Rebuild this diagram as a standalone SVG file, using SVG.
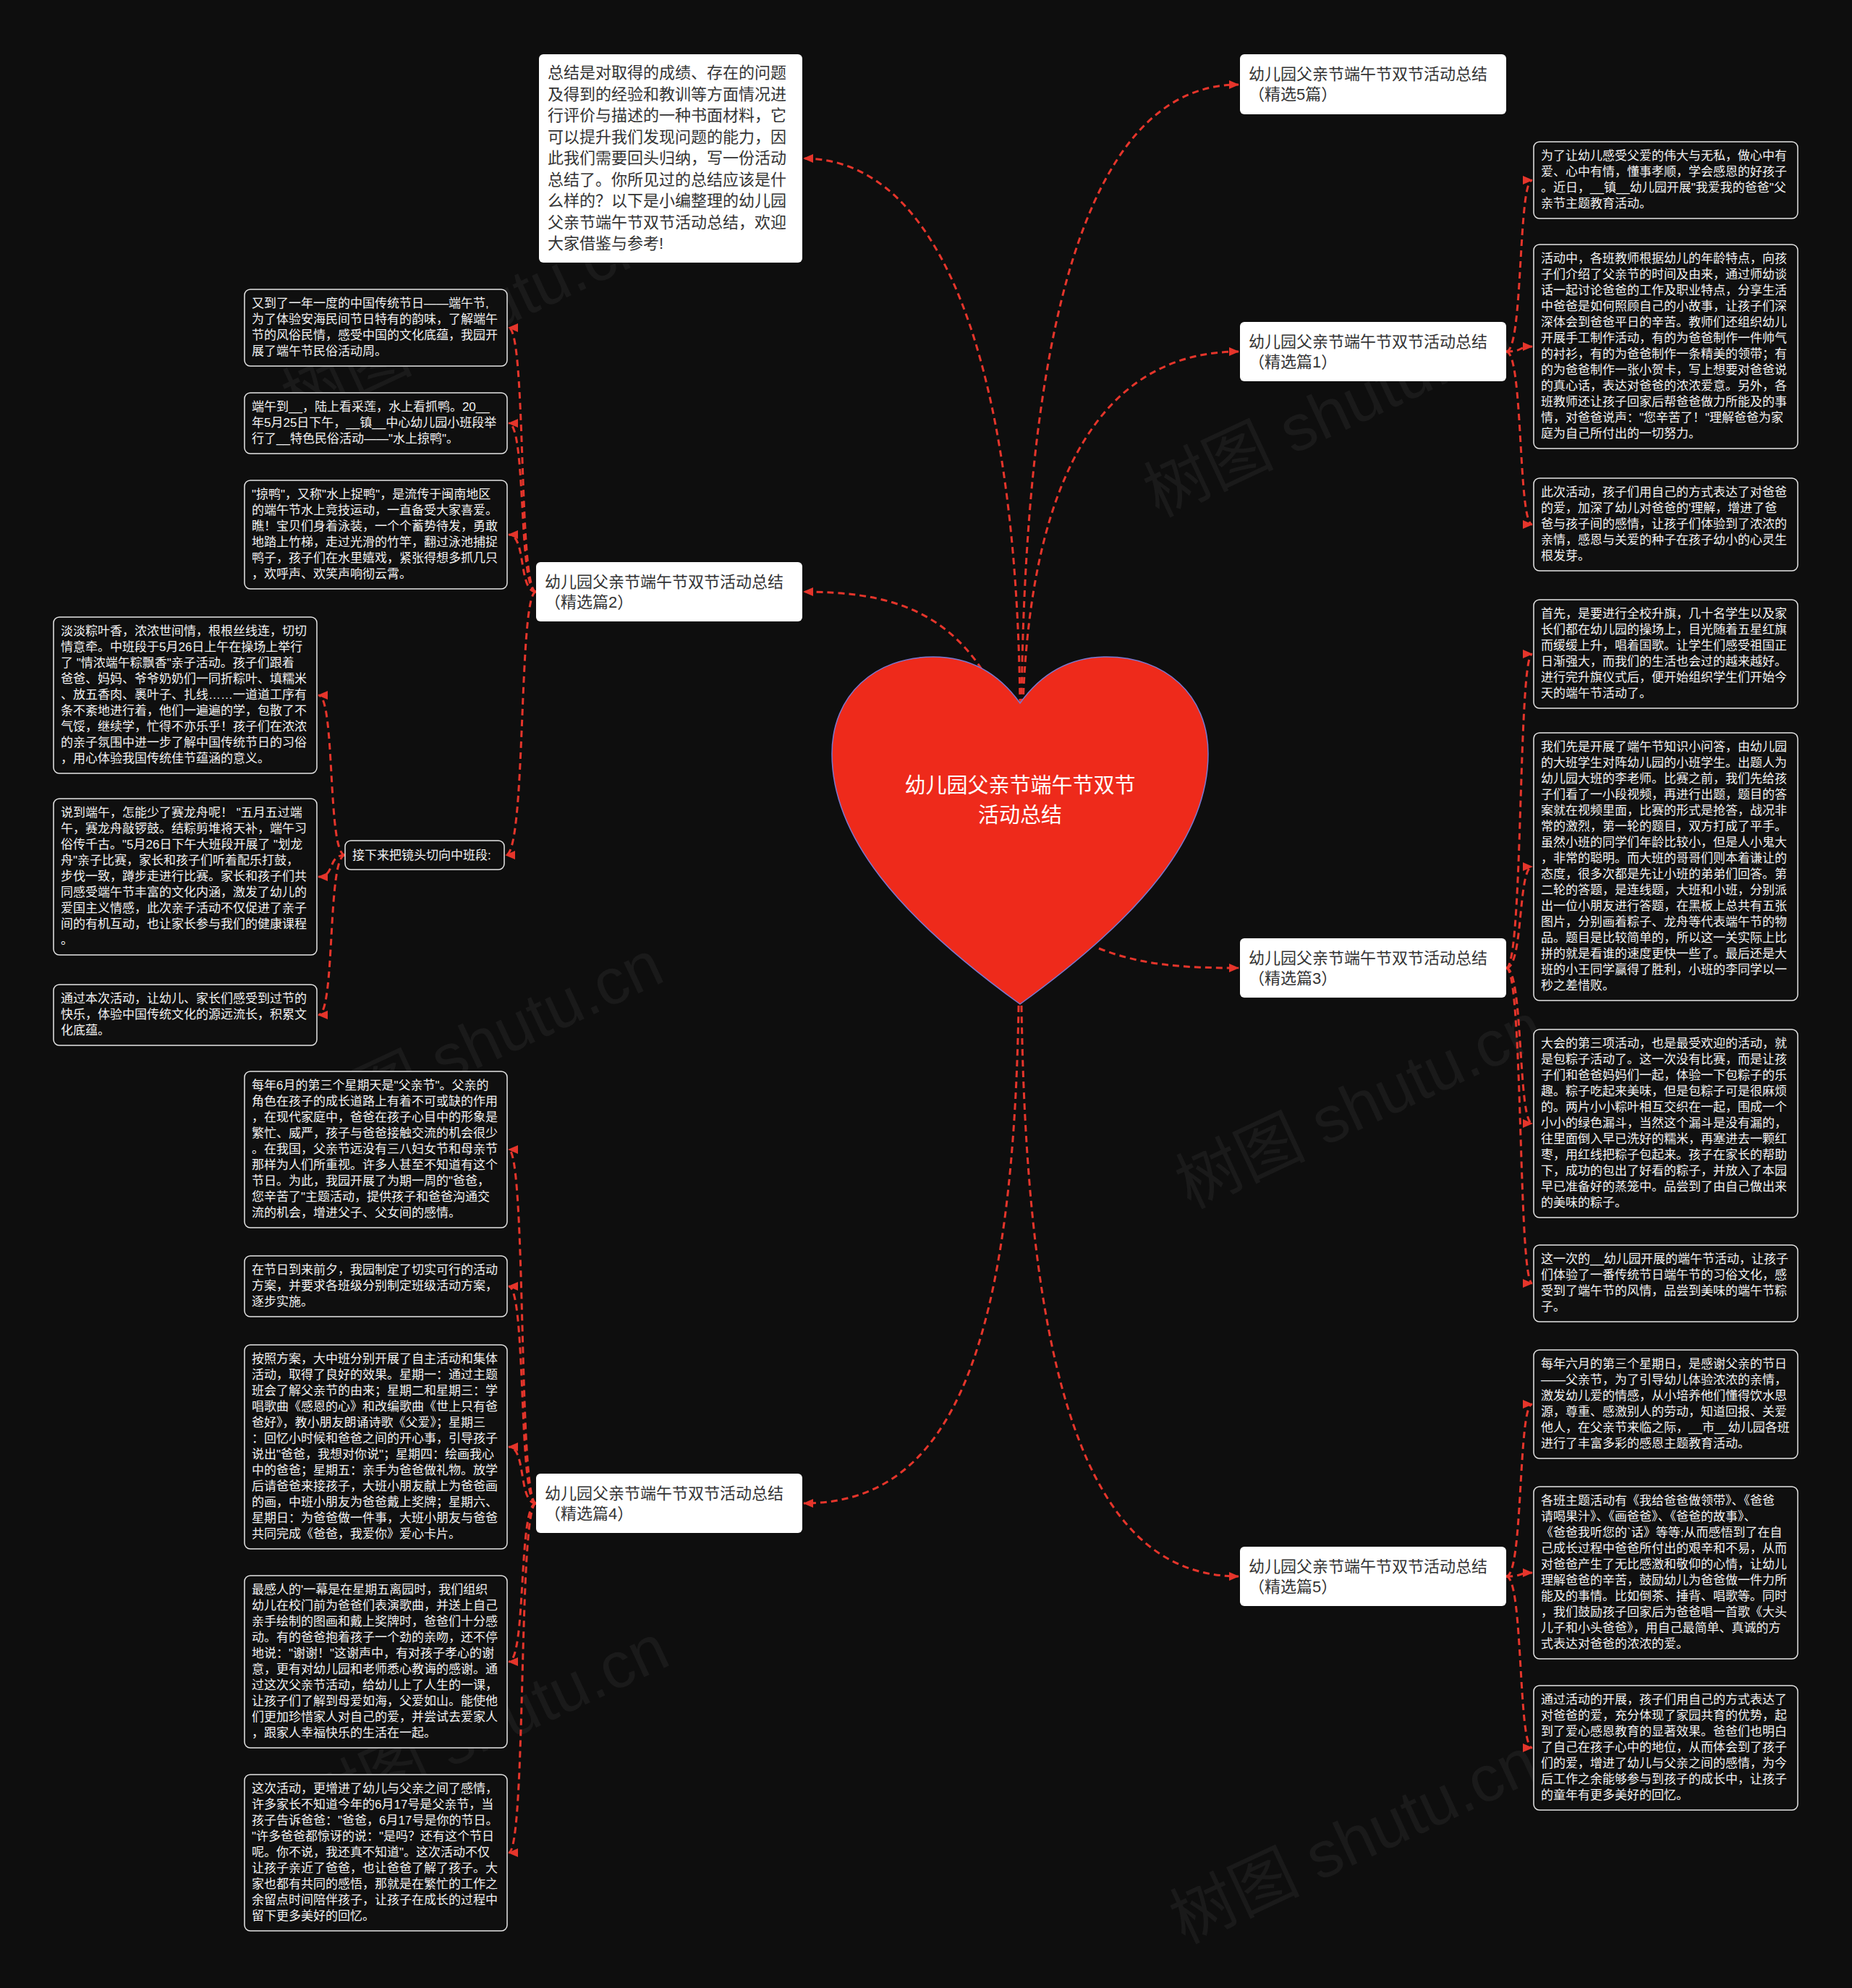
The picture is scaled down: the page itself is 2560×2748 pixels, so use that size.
<svg xmlns="http://www.w3.org/2000/svg" width="2560" height="2748" viewBox="0 0 2560 2748">
<defs>
<marker id="arr" markerUnits="userSpaceOnUse" markerWidth="14" markerHeight="12" refX="13" refY="6" orient="auto"><path d="M0,0 L14,6 L0,12 z" fill="#e5352b"/></marker>
<style>
.conn{fill:none;stroke:#e5352b;stroke-width:3;stroke-dasharray:9 6;marker-end:url(#arr)}
.br{fill:#ffffff}
.bt{font-family:"Liberation Sans","Noto Sans CJK SC",sans-serif;font-size:22px;fill:#333333}
.lf{fill:#0f0f0f;stroke:#e6e6e6;stroke-width:1.5}
.lt{font-family:"Liberation Sans","Noto Sans CJK SC",sans-serif;font-size:17px;fill:#f2f2f2}
.ct{font-family:"Liberation Sans","Noto Sans CJK SC",sans-serif;font-size:29px;fill:#ffffff}
.wm{font-family:"Liberation Sans","Noto Sans CJK SC",sans-serif;font-size:90px;fill:#ffffff;fill-opacity:0.05}
</style>
</defs>
<rect width="2560" height="2748" fill="#0e0e0e"/>
<g id="watermarks">
<text class="wm" transform="translate(657,470) rotate(-25)" text-anchor="middle">树图 shutu.cn</text>
<text class="wm" transform="translate(1848,600) rotate(-25)" text-anchor="middle">树图 shutu.cn</text>
<text class="wm" transform="translate(675,1470) rotate(-25)" text-anchor="middle">树图 shutu.cn</text>
<text class="wm" transform="translate(1892,1556) rotate(-25)" text-anchor="middle">树图 shutu.cn</text>
<text class="wm" transform="translate(683,2415) rotate(-25)" text-anchor="middle">树图 shutu.cn</text>
<text class="wm" transform="translate(1884,2572) rotate(-25)" text-anchor="middle">树图 shutu.cn</text>
</g>
<g id="connectors">
<path class="conn" d="M1410,975 C1405,500 1300,219 1111,219"/>
<path class="conn" d="M1412,975 C1418,400 1520,117 1712,117"/>
<path class="conn" d="M1414,975 C1425,650 1530,486 1712,486"/>
<path class="conn" d="M1357,925 C1300,840 1220,818 1111,818"/>
<path class="conn" d="M1519,1311 C1580,1335 1640,1338 1712,1338"/>
<path class="conn" d="M1408,1390 C1400,1900 1300,2078 1111,2078"/>
<path class="conn" d="M1412,1390 C1420,1950 1520,2179 1712,2179"/>
<path class="conn" d="M2082,486 C2106,486 2098,249 2118,249"/>
<path class="conn" d="M2082,486 C2106,486 2098,479 2118,479"/>
<path class="conn" d="M2082,486 C2106,486 2098,725 2118,725"/>
<path class="conn" d="M2082,1338 C2106,1338 2098,904 2118,904"/>
<path class="conn" d="M2082,1338 C2106,1338 2098,1198 2118,1198"/>
<path class="conn" d="M2082,1338 C2106,1338 2098,1553 2118,1553"/>
<path class="conn" d="M2082,1338 C2106,1338 2098,1774 2118,1774"/>
<path class="conn" d="M2082,2179 C2106,2179 2098,1941 2118,1941"/>
<path class="conn" d="M2082,2179 C2106,2179 2098,2174 2118,2174"/>
<path class="conn" d="M2082,2179 C2106,2179 2098,2416 2118,2416"/>
<path class="conn" d="M741,818 C716,818 728,453 703,453"/>
<path class="conn" d="M741,818 C716,818 728,585 703,585"/>
<path class="conn" d="M741,818 C716,818 728,739 703,739"/>
<path class="conn" d="M741,818 C716,818 728,1182 699,1182"/>
<path class="conn" d="M477,1182 C452,1182 464,961 440,961"/>
<path class="conn" d="M477,1182 C452,1182 464,1212 440,1212"/>
<path class="conn" d="M477,1182 C452,1182 464,1403 440,1403"/>
<path class="conn" d="M741,2078 C716,2078 728,1589 703,1589"/>
<path class="conn" d="M741,2078 C716,2078 728,1778 703,1778"/>
<path class="conn" d="M741,2078 C716,2078 728,2000 703,2000"/>
<path class="conn" d="M741,2078 C716,2078 728,2297 703,2297"/>
<path class="conn" d="M741,2078 C716,2078 728,2561 703,2561"/>
</g>
<g id="n-center">
<path d="M1410,972 C1380,930 1340,908 1290,908 C1210,908 1150,960 1150,1042 C1150,1155 1240,1265 1410,1388 C1580,1265 1670,1155 1670,1042 C1670,960 1610,908 1530,908 C1480,908 1440,930 1410,972 Z" fill="#ee2a1b" stroke="#7a78d0" stroke-width="1.5"/>
<text class="ct" text-anchor="middle"><tspan x="1410" y="1096">幼儿园父亲节端午节双节</tspan><tspan x="1410" y="1137">活动总结</tspan></text>
</g>
<g id="n-intro">
<rect class="br" x="745" y="75" width="364" height="288" rx="6"/>
<text class="bt"><tspan x="757" y="108">总结是对取得的成绩、存在的问题</tspan><tspan x="757" dy="29.5">及得到的经验和教训等方面情况进</tspan><tspan x="757" dy="29.5">行评价与描述的一种书面材料，它</tspan><tspan x="757" dy="29.5">可以提升我们发现问题的能力，因</tspan><tspan x="757" dy="29.5">此我们需要回头归纳，写一份活动</tspan><tspan x="757" dy="29.5">总结了。你所见过的总结应该是什</tspan><tspan x="757" dy="29.5">么样的？以下是小编整理的幼儿园</tspan><tspan x="757" dy="29.5">父亲节端午节双节活动总结，欢迎</tspan><tspan x="757" dy="29.5">大家借鉴与参考!</tspan></text>
</g>
<g id="n-b5">
<rect class="br" x="1714" y="75" width="368" height="83" rx="6"/>
<text class="bt"><tspan x="1726" y="110">幼儿园父亲节端午节双节活动总结</tspan><tspan x="1726" dy="28">（精选5篇）</tspan></text>
</g>
<g id="n-b1">
<rect class="br" x="1714" y="445" width="368" height="82" rx="6"/>
<text class="bt"><tspan x="1726" y="480">幼儿园父亲节端午节双节活动总结</tspan><tspan x="1726" dy="28">（精选篇1）</tspan></text>
</g>
<g id="n-b3">
<rect class="br" x="1714" y="1297" width="368" height="82" rx="6"/>
<text class="bt"><tspan x="1726" y="1332">幼儿园父亲节端午节双节活动总结</tspan><tspan x="1726" dy="28">（精选篇3）</tspan></text>
</g>
<g id="n-b5b">
<rect class="br" x="1714" y="2138" width="368" height="82" rx="6"/>
<text class="bt"><tspan x="1726" y="2173">幼儿园父亲节端午节双节活动总结</tspan><tspan x="1726" dy="28">（精选篇5）</tspan></text>
</g>
<g id="n-b2">
<rect class="br" x="741" y="777" width="368" height="82" rx="6"/>
<text class="bt"><tspan x="753" y="812">幼儿园父亲节端午节双节活动总结</tspan><tspan x="753" dy="28">（精选篇2）</tspan></text>
</g>
<g id="n-b4">
<rect class="br" x="741" y="2037" width="368" height="82" rx="6"/>
<text class="bt"><tspan x="753" y="2072">幼儿园父亲节端午节双节活动总结</tspan><tspan x="753" dy="28">（精选篇4）</tspan></text>
</g>
<g id="n-L1">
<rect class="lf" x="338" y="400" width="363" height="106" rx="8"/>
<text class="lt"><tspan x="348" y="425">又到了一年一度的中国传统节日——端午节,</tspan><tspan x="348" dy="22">为了体验安海民间节日特有的韵味，了解端午</tspan><tspan x="348" dy="22">节的风俗民情，感受中国的文化底蕴，我园开</tspan><tspan x="348" dy="22">展了端午节民俗活动周。</tspan></text>
</g>
<g id="n-L2">
<rect class="lf" x="338" y="543" width="363" height="84" rx="8"/>
<text class="lt"><tspan x="348" y="568">端午到__，陆上看采莲，水上看抓鸭。20__</tspan><tspan x="348" dy="22">年5月25日下午，__镇__中心幼儿园小班段举</tspan><tspan x="348" dy="22">行了__特色民俗活动——"水上掠鸭"。</tspan></text>
</g>
<g id="n-L3">
<rect class="lf" x="338" y="664" width="363" height="150" rx="8"/>
<text class="lt"><tspan x="348" y="689">"掠鸭"，又称"水上捉鸭"，是流传于闽南地区</tspan><tspan x="348" dy="22">的端午节水上竞技运动，一直备受大家喜爱。</tspan><tspan x="348" dy="22">瞧！宝贝们身着泳装，一个个蓄势待发，勇敢</tspan><tspan x="348" dy="22">地踏上竹梯，走过光滑的竹竿，翻过泳池捕捉</tspan><tspan x="348" dy="22">鸭子，孩子们在水里嬉戏，紧张得想多抓几只</tspan><tspan x="348" dy="22">，欢呼声、欢笑声响彻云霄。</tspan></text>
</g>
<g id="n-next">
<rect class="lf" x="477" y="1162" width="220" height="40" rx="8"/>
<text class="lt"><tspan x="487" y="1188">接下来把镜头切向中班段:</tspan></text>
</g>
<g id="n-L4">
<rect class="lf" x="74" y="853" width="364" height="216" rx="8"/>
<text class="lt"><tspan x="84" y="878">淡淡粽叶香，浓浓世间情，根根丝线连，切切</tspan><tspan x="84" dy="22">情意牵。中班段于5月26日上午在操场上举行</tspan><tspan x="84" dy="22">了 "情浓端午粽飘香"亲子活动。孩子们跟着</tspan><tspan x="84" dy="22">爸爸、妈妈、爷爷奶奶们一同折粽叶、填糯米</tspan><tspan x="84" dy="22">、放五香肉、裹叶子、扎线……一道道工序有</tspan><tspan x="84" dy="22">条不紊地进行着，他们一遍遍的学，包散了不</tspan><tspan x="84" dy="22">气馁，继续学，忙得不亦乐乎！孩子们在浓浓</tspan><tspan x="84" dy="22">的亲子氛围中进一步了解中国传统节日的习俗</tspan><tspan x="84" dy="22">，用心体验我国传统佳节蕴涵的意义。</tspan></text>
</g>
<g id="n-L5">
<rect class="lf" x="74" y="1104" width="364" height="216" rx="8"/>
<text class="lt"><tspan x="84" y="1129">说到端午，怎能少了赛龙舟呢！ "五月五过端</tspan><tspan x="84" dy="22">午，赛龙舟敲锣鼓。结粽剪堆将天补，端午习</tspan><tspan x="84" dy="22">俗传千古。"5月26日下午大班段开展了 "划龙</tspan><tspan x="84" dy="22">舟"亲子比赛，家长和孩子们听着配乐打鼓，</tspan><tspan x="84" dy="22">步伐一致，蹲步走进行比赛。家长和孩子们共</tspan><tspan x="84" dy="22">同感受端午节丰富的文化内涵，激发了幼儿的</tspan><tspan x="84" dy="22">爱国主义情感，此次亲子活动不仅促进了亲子</tspan><tspan x="84" dy="22">间的有机互动，也让家长参与我们的健康课程</tspan><tspan x="84" dy="22">。</tspan></text>
</g>
<g id="n-L6">
<rect class="lf" x="74" y="1361" width="364" height="84" rx="8"/>
<text class="lt"><tspan x="84" y="1386">通过本次活动，让幼儿、家长们感受到过节的</tspan><tspan x="84" dy="22">快乐，体验中国传统文化的源远流长，积累文</tspan><tspan x="84" dy="22">化底蕴。</tspan></text>
</g>
<g id="n-L7">
<rect class="lf" x="338" y="1481" width="363" height="216" rx="8"/>
<text class="lt"><tspan x="348" y="1506">每年6月的第三个星期天是"父亲节"。父亲的</tspan><tspan x="348" dy="22">角色在孩子的成长道路上有着不可或缺的作用</tspan><tspan x="348" dy="22">，在现代家庭中，爸爸在孩子心目中的形象是</tspan><tspan x="348" dy="22">繁忙、威严，孩子与爸爸接触交流的机会很少</tspan><tspan x="348" dy="22">。在我国，父亲节远没有三八妇女节和母亲节</tspan><tspan x="348" dy="22">那样为人们所重视。许多人甚至不知道有这个</tspan><tspan x="348" dy="22">节日。为此，我园开展了为期一周的"爸爸，</tspan><tspan x="348" dy="22">您辛苦了"主题活动，提供孩子和爸爸沟通交</tspan><tspan x="348" dy="22">流的机会，增进父子、父女间的感情。</tspan></text>
</g>
<g id="n-L8">
<rect class="lf" x="338" y="1736" width="363" height="84" rx="8"/>
<text class="lt"><tspan x="348" y="1761">在节日到来前夕，我园制定了切实可行的活动</tspan><tspan x="348" dy="22">方案，并要求各班级分别制定班级活动方案，</tspan><tspan x="348" dy="22">逐步实施。</tspan></text>
</g>
<g id="n-L9">
<rect class="lf" x="338" y="1859" width="363" height="282" rx="8"/>
<text class="lt"><tspan x="348" y="1884">按照方案，大中班分别开展了自主活动和集体</tspan><tspan x="348" dy="22">活动，取得了良好的效果。星期一：通过主题</tspan><tspan x="348" dy="22">班会了解父亲节的由来；星期二和星期三：学</tspan><tspan x="348" dy="22">唱歌曲《感恩的心》和改编歌曲《世上只有爸</tspan><tspan x="348" dy="22">爸好》，教小朋友朗诵诗歌《父爱》；星期三</tspan><tspan x="348" dy="22">：回忆小时候和爸爸之间的开心事，引导孩子</tspan><tspan x="348" dy="22">说出"爸爸，我想对你说"；星期四：绘画我心</tspan><tspan x="348" dy="22">中的爸爸；星期五：亲手为爸爸做礼物。放学</tspan><tspan x="348" dy="22">后请爸爸来接孩子，大班小朋友献上为爸爸画</tspan><tspan x="348" dy="22">的画，中班小朋友为爸爸戴上奖牌；星期六、</tspan><tspan x="348" dy="22">星期日：为爸爸做一件事，大班小朋友与爸爸</tspan><tspan x="348" dy="22">共同完成《爸爸，我爱你》爱心卡片。</tspan></text>
</g>
<g id="n-L10">
<rect class="lf" x="338" y="2178" width="363" height="238" rx="8"/>
<text class="lt"><tspan x="348" y="2203">最感人的'一幕是在星期五离园时，我们组织</tspan><tspan x="348" dy="22">幼儿在校门前为爸爸们表演歌曲，并送上自己</tspan><tspan x="348" dy="22">亲手绘制的图画和戴上奖牌时，爸爸们十分感</tspan><tspan x="348" dy="22">动。有的爸爸抱着孩子一个劲的亲吻，还不停</tspan><tspan x="348" dy="22">地说："谢谢！"这谢声中，有对孩子孝心的谢</tspan><tspan x="348" dy="22">意，更有对幼儿园和老师悉心教诲的感谢。通</tspan><tspan x="348" dy="22">过这次父亲节活动，给幼儿上了人生的一课，</tspan><tspan x="348" dy="22">让孩子们了解到母爱如海，父爱如山。能使他</tspan><tspan x="348" dy="22">们更加珍惜家人对自己的爱，并尝试去爱家人</tspan><tspan x="348" dy="22">，跟家人幸福快乐的生活在一起。</tspan></text>
</g>
<g id="n-L11">
<rect class="lf" x="338" y="2453" width="363" height="216" rx="8"/>
<text class="lt"><tspan x="348" y="2478">这次活动，更增进了幼儿与父亲之间了感情，</tspan><tspan x="348" dy="22">许多家长不知道今年的6月17号是父亲节，当</tspan><tspan x="348" dy="22">孩子告诉爸爸："爸爸，6月17号是你的节日。</tspan><tspan x="348" dy="22">"许多爸爸都惊讶的说："是吗？还有这个节日</tspan><tspan x="348" dy="22">呢。你不说，我还真不知道"。这次活动不仅</tspan><tspan x="348" dy="22">让孩子亲近了爸爸，也让爸爸了解了孩子。大</tspan><tspan x="348" dy="22">家也都有共同的感悟，那就是在繁忙的工作之</tspan><tspan x="348" dy="22">余留点时间陪伴孩子，让孩子在成长的过程中</tspan><tspan x="348" dy="22">留下更多美好的回忆。</tspan></text>
</g>
<g id="n-R1">
<rect class="lf" x="2120" y="196" width="365" height="106" rx="8"/>
<text class="lt"><tspan x="2130" y="221">为了让幼儿感受父爱的伟大与无私，做心中有</tspan><tspan x="2130" dy="22">爱、心中有情，懂事孝顺，学会感恩的好孩子</tspan><tspan x="2130" dy="22">。近日，__镇__幼儿园开展"我爱我的爸爸"父</tspan><tspan x="2130" dy="22">亲节主题教育活动。</tspan></text>
</g>
<g id="n-R2">
<rect class="lf" x="2120" y="338" width="365" height="282" rx="8"/>
<text class="lt"><tspan x="2130" y="363">活动中，各班教师根据幼儿的年龄特点，向孩</tspan><tspan x="2130" dy="22">子们介绍了父亲节的时间及由来，通过师幼谈</tspan><tspan x="2130" dy="22">话一起讨论爸爸的工作及职业特点，分享生活</tspan><tspan x="2130" dy="22">中爸爸是如何照顾自己的小故事，让孩子们深</tspan><tspan x="2130" dy="22">深体会到爸爸平日的辛苦。教师们还组织幼儿</tspan><tspan x="2130" dy="22">开展手工制作活动，有的为爸爸制作一件帅气</tspan><tspan x="2130" dy="22">的衬衫，有的为爸爸制作一条精美的领带；有</tspan><tspan x="2130" dy="22">的为爸爸制作一张小贺卡，写上想要对爸爸说</tspan><tspan x="2130" dy="22">的真心话，表达对爸爸的浓浓爱意。另外，各</tspan><tspan x="2130" dy="22">班教师还让孩子回家后帮爸爸做力所能及的事</tspan><tspan x="2130" dy="22">情，对爸爸说声："您辛苦了！"理解爸爸为家</tspan><tspan x="2130" dy="22">庭为自己所付出的一切努力。</tspan></text>
</g>
<g id="n-R3">
<rect class="lf" x="2120" y="661" width="365" height="128" rx="8"/>
<text class="lt"><tspan x="2130" y="686">此次活动，孩子们用自己的方式表达了对爸爸</tspan><tspan x="2130" dy="22">的爱，加深了幼儿对爸爸的'理解，增进了爸</tspan><tspan x="2130" dy="22">爸与孩子间的感情，让孩子们体验到了浓浓的</tspan><tspan x="2130" dy="22">亲情，感恩与关爱的种子在孩子幼小的心灵生</tspan><tspan x="2130" dy="22">根发芽。</tspan></text>
</g>
<g id="n-R4">
<rect class="lf" x="2120" y="829" width="365" height="150" rx="8"/>
<text class="lt"><tspan x="2130" y="854">首先，是要进行全校升旗，几十名学生以及家</tspan><tspan x="2130" dy="22">长们都在幼儿园的操场上，目光随着五星红旗</tspan><tspan x="2130" dy="22">而缓缓上升，唱着国歌。让学生们感受祖国正</tspan><tspan x="2130" dy="22">日渐强大，而我们的生活也会过的越来越好。</tspan><tspan x="2130" dy="22">进行完升旗仪式后，便开始组织学生们开始今</tspan><tspan x="2130" dy="22">天的端午节活动了。</tspan></text>
</g>
<g id="n-R5">
<rect class="lf" x="2120" y="1013" width="365" height="370" rx="8"/>
<text class="lt"><tspan x="2130" y="1038">我们先是开展了端午节知识小问答，由幼儿园</tspan><tspan x="2130" dy="22">的大班学生对阵幼儿园的小班学生。出题人为</tspan><tspan x="2130" dy="22">幼儿园大班的李老师。比赛之前，我们先给孩</tspan><tspan x="2130" dy="22">子们看了一小段视频，再进行出题，题目的答</tspan><tspan x="2130" dy="22">案就在视频里面，比赛的形式是抢答，战况非</tspan><tspan x="2130" dy="22">常的激烈，第一轮的题目，双方打成了平手。</tspan><tspan x="2130" dy="22">虽然小班的同学们年龄比较小，但是人小鬼大</tspan><tspan x="2130" dy="22">，非常的聪明。而大班的哥哥们则本着谦让的</tspan><tspan x="2130" dy="22">态度，很多次都是先让小班的弟弟们回答。第</tspan><tspan x="2130" dy="22">二轮的答题，是连线题，大班和小班，分别派</tspan><tspan x="2130" dy="22">出一位小朋友进行答题，在黑板上总共有五张</tspan><tspan x="2130" dy="22">图片，分别画着粽子、龙舟等代表端午节的物</tspan><tspan x="2130" dy="22">品。题目是比较简单的，所以这一关实际上比</tspan><tspan x="2130" dy="22">拼的就是看谁的速度更快一些了。最后还是大</tspan><tspan x="2130" dy="22">班的小王同学赢得了胜利，小班的李同学以一</tspan><tspan x="2130" dy="22">秒之差惜败。</tspan></text>
</g>
<g id="n-R6">
<rect class="lf" x="2120" y="1423" width="365" height="260" rx="8"/>
<text class="lt"><tspan x="2130" y="1448">大会的第三项活动，也是最受欢迎的活动，就</tspan><tspan x="2130" dy="22">是包粽子活动了。这一次没有比赛，而是让孩</tspan><tspan x="2130" dy="22">子们和爸爸妈妈们一起，体验一下包粽子的乐</tspan><tspan x="2130" dy="22">趣。粽子吃起来美味，但是包粽子可是很麻烦</tspan><tspan x="2130" dy="22">的。两片小小粽叶相互交织在一起，围成一个</tspan><tspan x="2130" dy="22">小小的绿色漏斗，当然这个漏斗是没有漏的，</tspan><tspan x="2130" dy="22">往里面倒入早已洗好的糯米，再塞进去一颗红</tspan><tspan x="2130" dy="22">枣，用红线把粽子包起来。孩子在家长的帮助</tspan><tspan x="2130" dy="22">下，成功的包出了好看的粽子，并放入了本园</tspan><tspan x="2130" dy="22">早已准备好的蒸笼中。品尝到了由自己做出来</tspan><tspan x="2130" dy="22">的美味的粽子。</tspan></text>
</g>
<g id="n-R7">
<rect class="lf" x="2120" y="1721" width="365" height="106" rx="8"/>
<text class="lt"><tspan x="2130" y="1746">这一次的__幼儿园开展的端午节活动，让孩子</tspan><tspan x="2130" dy="22">们体验了一番传统节日端午节的习俗文化，感</tspan><tspan x="2130" dy="22">受到了端午节的风情，品尝到美味的端午节粽</tspan><tspan x="2130" dy="22">子。</tspan></text>
</g>
<g id="n-R8">
<rect class="lf" x="2120" y="1866" width="365" height="150" rx="8"/>
<text class="lt"><tspan x="2130" y="1891">每年六月的第三个星期日，是感谢父亲的节日</tspan><tspan x="2130" dy="22">——父亲节，为了引导幼儿体验浓浓的亲情，</tspan><tspan x="2130" dy="22">激发幼儿爱的情感，从小培养他们懂得饮水思</tspan><tspan x="2130" dy="22">源，尊重、感激别人的劳动，知道回报、关爱</tspan><tspan x="2130" dy="22">他人，在父亲节来临之际，__市__幼儿园各班</tspan><tspan x="2130" dy="22">进行了丰富多彩的感恩主题教育活动。</tspan></text>
</g>
<g id="n-R9">
<rect class="lf" x="2120" y="2055" width="365" height="238" rx="8"/>
<text class="lt"><tspan x="2130" y="2080">各班主题活动有《我给爸爸做领带》、《爸爸</tspan><tspan x="2130" dy="22">请喝果汁》、《画爸爸》、《爸爸的故事》、</tspan><tspan x="2130" dy="22">《爸爸我听您的`话》等等;从而感悟到了在自</tspan><tspan x="2130" dy="22">己成长过程中爸爸所付出的艰辛和不易，从而</tspan><tspan x="2130" dy="22">对爸爸产生了无比感激和敬仰的心情，让幼儿</tspan><tspan x="2130" dy="22">理解爸爸的辛苦，鼓励幼儿为爸爸做一件力所</tspan><tspan x="2130" dy="22">能及的事情。比如倒茶、捶背、唱歌等。同时</tspan><tspan x="2130" dy="22">，我们鼓励孩子回家后为爸爸唱一首歌《大头</tspan><tspan x="2130" dy="22">儿子和小头爸爸》，用自己最简单、真诚的方</tspan><tspan x="2130" dy="22">式表达对爸爸的浓浓的爱。</tspan></text>
</g>
<g id="n-R10">
<rect class="lf" x="2120" y="2330" width="365" height="172" rx="8"/>
<text class="lt"><tspan x="2130" y="2355">通过活动的开展，孩子们用自己的方式表达了</tspan><tspan x="2130" dy="22">对爸爸的爱，充分体现了家园共育的优势，起</tspan><tspan x="2130" dy="22">到了爱心感恩教育的显著效果。爸爸们也明白</tspan><tspan x="2130" dy="22">了自己在孩子心中的地位，从而体会到了孩子</tspan><tspan x="2130" dy="22">们的爱，增进了幼儿与父亲之间的感情，为今</tspan><tspan x="2130" dy="22">后工作之余能够参与到孩子的成长中，让孩子</tspan><tspan x="2130" dy="22">的童年有更多美好的回忆。</tspan></text>
</g>
</svg>
